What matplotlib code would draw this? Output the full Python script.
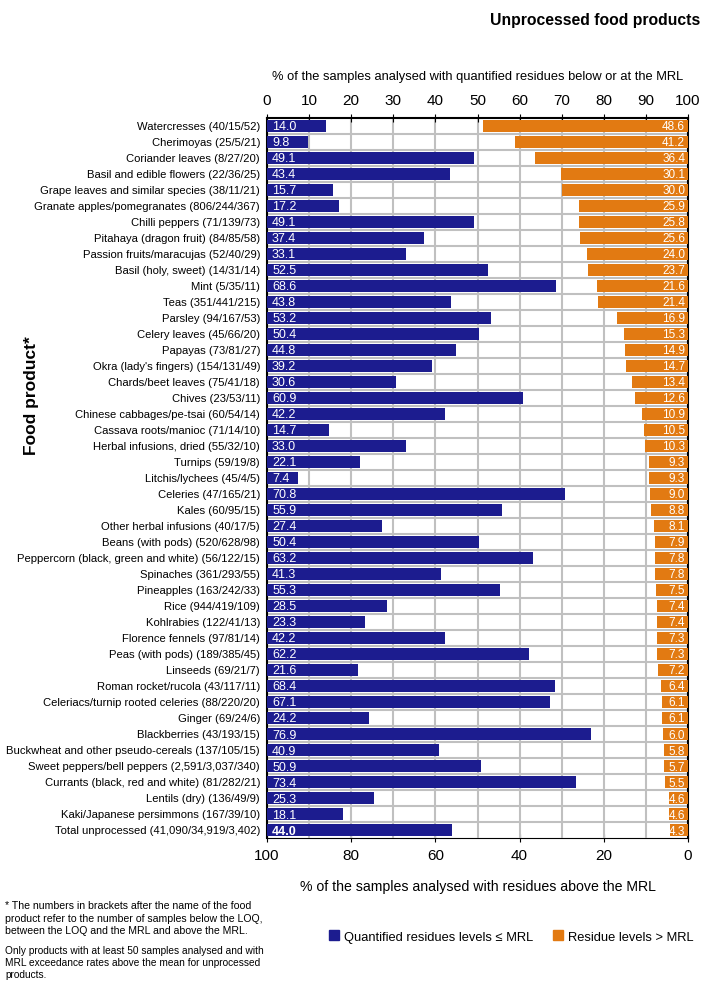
import matplotlib.pyplot as plt
from matplotlib.patches import Patch

plt.rcParams['font.family'] = ['Liberation Sans', 'DejaVu Sans']

# Food products with sample counts (below LOQ / LOQ-MRL / above MRL)
foods = [
    "Watercresses (40/15/52)", "Cherimoyas (25/5/21)", "Coriander leaves (8/27/20)",
    "Basil and edible flowers (22/36/25)", "Grape leaves and similar species (38/11/21)",
    "Granate apples/pomegranates (806/244/367)", "Chilli peppers (71/139/73)",
    "Pitahaya (dragon fruit) (84/85/58)", "Passion fruits/maracujas (52/40/29)",
    "Basil (holy, sweet) (14/31/14)", "Mint (5/35/11)", "Teas (351/441/215)",
    "Parsley (94/167/53)", "Celery leaves (45/66/20)", "Papayas (73/81/27)",
    "Okra (lady's fingers) (154/131/49)", "Chards/beet leaves (75/41/18)",
    "Chives (23/53/11)", "Chinese cabbages/pe-tsai (60/54/14)",
    "Cassava roots/manioc (71/14/10)", "Herbal infusions, dried (55/32/10)",
    "Turnips (59/19/8)", "Litchis/lychees (45/4/5)", "Celeries (47/165/21)",
    "Kales (60/95/15)", "Other herbal infusions (40/17/5)",
    "Beans (with pods) (520/628/98)", "Peppercorn (black, green and white) (56/122/15)",
    "Spinaches (361/293/55)", "Pineapples (163/242/33)", "Rice (944/419/109)",
    "Kohlrabies (122/41/13)", "Florence fennels (97/81/14)",
    "Peas (with pods) (189/385/45)", "Linseeds (69/21/7)",
    "Roman rocket/rucola (43/117/11)", "Celeriacs/turnip rooted celeries (88/220/20)",
    "Ginger (69/24/6)", "Blackberries (43/193/15)",
    "Buckwheat and other pseudo-cereals (137/105/15)",
    "Sweet peppers/bell peppers (2,591/3,037/340)",
    "Currants (black, red and white) (81/282/21)", "Lentils (dry) (136/49/9)",
    "Kaki/Japanese persimmons (167/39/10)", "Total unprocessed (41,090/34,919/3,402)",
]

# % quantified residues <= MRL
below_mrl = [14.0, 9.8, 49.1, 43.4, 15.7, 17.2, 49.1, 37.4, 33.1, 52.5, 68.6, 43.8,
             53.2, 50.4, 44.8, 39.2, 30.6, 60.9, 42.2, 14.7, 33.0, 22.1, 7.4, 70.8,
             55.9, 27.4, 50.4, 63.2, 41.3, 55.3, 28.5, 23.3, 42.2, 62.2, 21.6, 68.4,
             67.1, 24.2, 76.9, 40.9, 50.9, 73.4, 25.3, 18.1, 44.0]

# % residues > MRL
above_mrl = [48.6, 41.2, 36.4, 30.1, 30.0, 25.9, 25.8, 25.6, 24.0, 23.7, 21.6, 21.4,
             16.9, 15.3, 14.9, 14.7, 13.4, 12.6, 10.9, 10.5, 10.3, 9.3, 9.3, 9.0,
             8.8, 8.1, 7.9, 7.8, 7.8, 7.5, 7.4, 7.4, 7.3, 7.3, 7.2, 6.4,
             6.1, 6.1, 6.0, 5.8, 5.7, 5.5, 4.6, 4.6, 4.3]

blue = '#1c1c8f'
orange = '#e27a12'

fig = plt.figure(figsize=(7.09, 9.83), dpi=100)
ax = fig.add_axes([0.3766, 0.1475, 0.5938, 0.7325])

y = list(range(len(foods)))
ax.barh(y, below_mrl, height=0.72, color=blue, zorder=3)
ax.barh(y, above_mrl, left=[100 - v for v in above_mrl], height=0.72, color=orange, zorder=3)

for i, (b, a) in enumerate(zip(below_mrl, above_mrl)):
    bold = 'bold' if i == len(foods) - 1 else 'normal'
    ax.text(1.2, i, f"{b:.1f}", color='white', va='center_baseline', ha='left',
            fontsize=9, fontweight=bold, zorder=4)
    ax.text(99.3, i, f"{a:.1f}", color='white', va='center_baseline', ha='right',
            fontsize=8.5, zorder=4)

ax.set_xlim(0, 100)
ax.set_ylim(len(foods) - 0.5, -0.5)
ax.set_yticks(y)
ax.set_yticklabels(foods, fontsize=10.5)
ax.tick_params(axis='y', length=0, pad=5)

# top axis
ax.xaxis.tick_top()
ax.xaxis.set_label_position('top')
ax.set_xticks(range(0, 101, 10))
ax.tick_params(axis='x', direction='inout', length=6, labelsize=11, pad=4)
top_lab = ax.set_xlabel('% of the samples analysed with quantified residues below or at the MRL',
                        fontsize=12, labelpad=10)

# bottom axis (reversed scale)
sec = ax.secondary_xaxis('bottom', functions=(lambda v: 100 - v, lambda v: 100 - v))
sec.set_xticks(range(0, 101, 20))
sec.tick_params(direction='inout', length=6, labelsize=11, pad=5)
bot_lab = sec.set_xlabel('% of the samples analysed with residues above the MRL',
                         fontsize=12, labelpad=12)

# grid
ax.grid(axis='x', color='#c0c0c0', linewidth=1.5, zorder=0)
for k in range(len(foods) - 1):
    ax.axhline(k + 0.5, color='#c0c0c0', linewidth=1.5, zorder=1)

for s in ['left', 'right', 'top']:
    ax.spines[s].set_linewidth(1.5)
ax.spines['bottom'].set_visible(False)

title = fig.text(0.988, 0.987, 'Unprocessed food products', ha='right', va='top',
                 fontsize=14, fontweight='bold')
fig.text(0.045, 0.598, 'Food product*', rotation=90, ha='center', va='center',
         fontsize=12.5, fontweight='bold')

note1 = fig.text(0.007, 0.083,
                 "* The numbers in brackets after the name of the food\n"
                 "product refer to the number of samples below the LOQ,\n"
                 "between the LOQ and the MRL and above the MRL.",
                 fontsize=9.5, va='top', ha='left', linespacing=1.3)
note2 = fig.text(0.007, 0.038,
                 "Only products with at least 50 samples analysed and with\n"
                 "MRL exceedance rates above the mean for unprocessed\n"
                 "products.",
                 fontsize=9.5, va='top', ha='left', linespacing=1.3)

handles = [Patch(color=blue, label='Quantified residues levels ≤ MRL'),
           Patch(color=orange, label='Residue levels > MRL')]
leg = fig.legend(handles=handles, loc='center right', bbox_to_anchor=(0.978, 0.047),
                 ncol=2, frameon=False, fontsize=12, handlelength=0.6, handleheight=0.6,
                 handletextpad=0.3, columnspacing=1.2, borderpad=0, borderaxespad=0)

# the reference uses a narrow font: fit the text widths to it
fig.canvas.draw()
r = fig.canvas.get_renderer()


def fit(texts, target, extent=None):
    w = extent if extent is not None else max(t.get_window_extent(r).width for t in texts)
    for t in texts:
        t.set_fontsize(t.get_fontsize() * target / w)


fit(ax.get_yticklabels(), 254)
fit([title], 210)
fit([top_lab], 414)
fit([bot_lab], 356)
fit([note1], 257)
fit([note2], 257)
fit(leg.get_texts(), 353, leg.get_window_extent(r).width)

fig.savefig('out.png', dpi=100)
